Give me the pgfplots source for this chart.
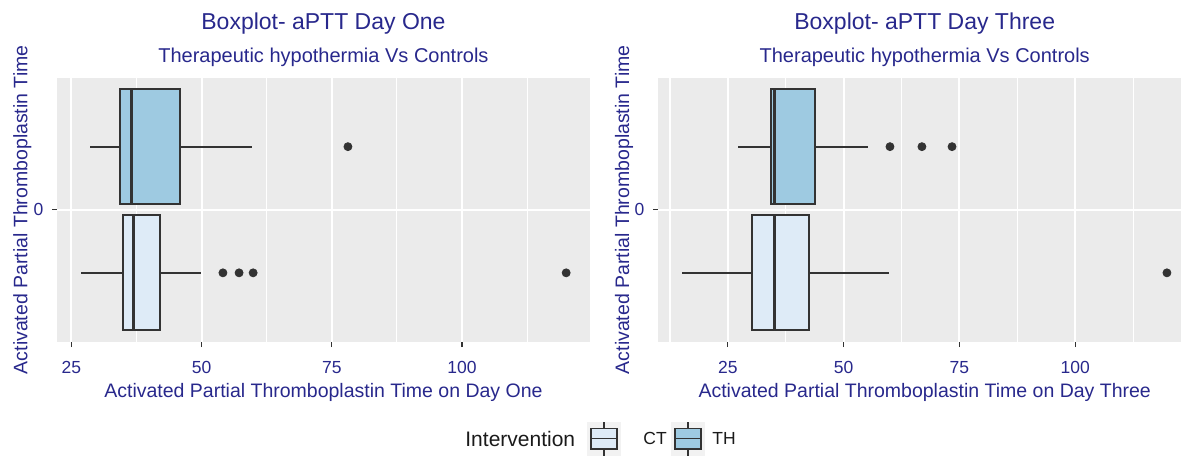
\documentclass[border=0pt]{standalone}
\usepackage{pgfplots}
\pgfplotsset{compat=1.18}
\usepgfplotslibrary{statistics}
\usepackage{fontspec}
\setmainfont{Liberation Sans}
\definecolor{panelbg}{HTML}{EBEBEB}
\definecolor{thfill}{HTML}{9ECAE1}
\definecolor{ctfill}{HTML}{DEEBF7}
\definecolor{g20}{HTML}{333333}
\definecolor{g10}{HTML}{1A1A1A}
\definecolor{navyt}{RGB}{40,40,140}
\definecolor{keybg}{HTML}{F2F2F2}
\newcommand\fs[1]{\fontsize{#1}{#1}\selectfont}
\pgfplotsset{
 ggbox/.style={
  scale only axis,
  ymin=-1, ymax=1,
  axis background/.style={fill=panelbg},
  axis x line*=bottom, axis y line*=left,
  axis line style={draw=none},
  xtick={25,50,75,100},
  minor xtick={12.5,37.5,62.5,87.5,112.5},
  ytick={0},
  xmajorgrids, xminorgrids, ymajorgrids,
  major grid style={white, line width=1pt},
  minor grid style={white, line width=0.55pt},
  tick align=outside,
  major tick length=2.5pt, minor tick length=0pt,
  tick style={g20, line width=0.55pt},
  /pgf/number format/assume math mode=true,
  tick label style={font=\fs{8.75}, text=navyt},
  xticklabel style={anchor=base, yshift=-13pt},
  yticklabel style={anchor=east, inner sep=0pt, xshift=-4.3pt},
  label style={font=\fs{9.75}, text=navyt},
  xlabel style={at={(axis description cs:0.5,-0.209)}, anchor=base},
  ylabel style={at={(axis description cs:-0.056,0.5)}, anchor=base},
  every axis title shift=0pt,
  title style={at={(axis description cs:0.5,1.1796)}, anchor=base, font=\fs{11.5}, text=navyt},
  clip=false,
  boxplot/every median/.style={line width=1.7pt},
  boxplot/whisker extend=0,
 },
 ggbp/.style={draw=g20, line width=0.95pt, solid},
 ggout/.style={only marks, mark=*, mark size=2pt, color=g20, mark options={draw=g20, fill=g20}},
}
\begin{document}
\begin{tikzpicture}
\clip (0pt,0pt) rectangle (590.5pt,227.5pt);
\useasboundingbox (0pt,0pt) rectangle (590.5pt,227.5pt);
% ---------- Day One ----------
\begin{axis}[ggbox,
  at={(28.65pt,56.5pt)}, anchor=south west,
  width=266.15pt, height=132.25pt,
  xmin=22.3, xmax=124.5,
  title={Boxplot- aPTT Day One},
  xlabel={Activated Partial Thromboplastin Time on Day One},
  ylabel={Activated Partial Thromboplastin Time}]
\addplot[ggbp, fill=thfill, boxplot prepared={draw direction=x, draw position=0.477, box extend=0.868,
  lower whisker=28.6, lower quartile=34.4, median=36.5, upper quartile=45.8, upper whisker=59.6}] coordinates {};
\addplot[ggbp, fill=ctfill, boxplot prepared={draw direction=x, draw position=-0.477, box extend=0.868,
  lower whisker=26.9, lower quartile=35.0, median=36.9, upper quartile=42.1, upper whisker=49.9}] coordinates {};
\addplot[ggout] coordinates {(78.1,0.477)};
\addplot[ggout] coordinates {(54.1,-0.477) (57.2,-0.477) (59.9,-0.477) (120.0,-0.477)};
\node[anchor=base, font=\fs{10}, text=navyt] at (axis description cs:0.5,1.0586) {Therapeutic hypothermia Vs Controls};
\end{axis}
% ---------- Day Three ----------
\begin{axis}[ggbox,
  at={(329.2pt,56.5pt)}, anchor=south west,
  width=266.3pt, height=132.25pt,
  xmin=10, xmax=125,
  title={Boxplot- aPTT Day Three},
  xlabel={Activated Partial Thromboplastin Time on Day Three},
  ylabel={Activated Partial Thromboplastin Time},
  ylabel style={at={(axis description cs:-0.0552,0.5)}}]
\addplot[ggbp, fill=thfill, boxplot prepared={draw direction=x, draw position=0.477, box extend=0.868,
  lower whisker=27.2, lower quartile=34.3, median=35.05, upper quartile=43.9, upper whisker=55.3}] coordinates {};
\addplot[ggbp, fill=ctfill, boxplot prepared={draw direction=x, draw position=-0.477, box extend=0.868,
  lower whisker=15.2, lower quartile=30.2, median=35.1, upper quartile=42.6, upper whisker=59.8}] coordinates {};
\addplot[ggout] coordinates {(60.0,0.477) (66.9,0.477) (73.4,0.477)};
\addplot[ggout] coordinates {(119.8,-0.477)};
\node[anchor=base, font=\fs{10}, text=navyt] at (axis description cs:0.5,1.0586) {Therapeutic hypothermia Vs Controls};
\end{axis}
% ---------- legend ----------
\node[anchor=base west, inner sep=0pt, font=\fs{10.5}, text=g10] at (232.5pt,4.5pt) {Intervention};
\fill[keybg] (293.5pt,-0.25pt) rectangle (310.5pt,16.75pt);
\draw[g20, line width=0.6pt, fill=ctfill] (295.5pt,3pt) rectangle (308.5pt,13.35pt);
\draw[g20, line width=0.6pt] (295.5pt,8.25pt) -- (308.5pt,8.25pt) (302pt,13.35pt) -- (302pt,16.65pt) (302pt,3pt) -- (302pt,-0.25pt);
\node[anchor=base west, inner sep=0pt, font=\fs{8.75}, text=g10] at (321.5pt,5.1pt) {CT};
\fill[keybg] (335.5pt,-0.25pt) rectangle (352.5pt,16.75pt);
\draw[g20, line width=0.6pt, fill=thfill] (337.5pt,3pt) rectangle (350.5pt,13.35pt);
\draw[g20, line width=0.6pt] (337.5pt,8.25pt) -- (350.5pt,8.25pt) (344pt,13.35pt) -- (344pt,16.65pt) (344pt,3pt) -- (344pt,-0.25pt);
\node[anchor=base west, inner sep=0pt, font=\fs{8.75}, text=g10] at (356pt,5.1pt) {TH};
\end{tikzpicture}
\end{document}
